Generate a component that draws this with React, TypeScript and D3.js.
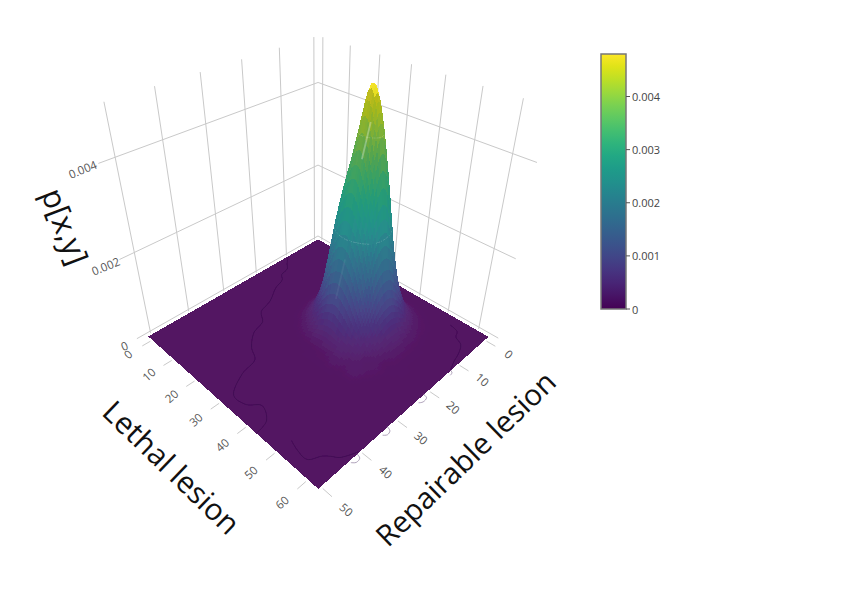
import React, { useMemo } from "react";
import * as d3 from "d3";

// ---- data ----
const lethalAxis = [-1.8, 10, 17, 20, 23, 26, 29, 32, 35, 38, 41, 44, 47, 50, 53, 63];
const repAxis = [-1.3, 3, 6, 9, 12, 15, 18, 21, 24, 27, 30, 36, 50.5];
// probability x 1e4, one row per lethal value, one column per repairable value
const heightRows = [
  [0, 0, 0, 0, 0, 0, 0, 0, 0, 0, 0, 0, 0],
  [0, 0, 0, 0, 0, 0, 0, 0, 0, 0, 0, 0, 0],
  [0, 0, 0, 0.1, 0.15, 0.2, 0.15, 0.1, 0, 0, 0, 0, 0],
  [0, 0, 0.15, 0.4, 0.8, 1.1, 1.0, 0.5, 0.15, 0, 0, 0, 0],
  [0, 0.1, 0.5, 1.7, 3.5, 4.8, 4.1, 2.2, 0.6, 0.1, 0, 0, 0],
  [0, 0.25, 1.3, 4.6, 9.2, 13.2, 11.6, 5.9, 1.9, 0.3, 0.05, 0, 0],
  [0, 0.5, 2.8, 9.8, 19.5, 27, 24, 12.4, 3.9, 0.7, 0.1, 0, 0],
  [0, 0.7, 4.9, 15.5, 29.5, 38, 32, 18.5, 6.2, 1.0, 0.2, 0, 0],
  [0, 0.8, 6.0, 18.7, 37, 48, 35, 20.2, 7.2, 1.2, 0.3, 0, 0],
  [0, 0.7, 5.0, 15.8, 33, 42, 30, 17.4, 6.1, 1.3, 0.3, 0, 0],
  [0, 0.5, 3.3, 9.8, 20, 25.5, 22, 11.8, 4.3, 1.9, 0.3, 0, 0],
  [0, 0.3, 1.5, 4.4, 9, 11.8, 10.5, 5.9, 3.0, 1.0, 0.2, 0, 0],
  [0, 0.15, 0.6, 1.5, 2.9, 3.9, 3.5, 2.4, 1.0, 1.3, 0.2, 0, 0],
  [0, 0, 0.25, 0.5, 0.9, 1.1, 1.2, 0.6, 0.8, 0.3, 0.05, 0, 0],
  [0, 0, 0, 0.1, 0.2, 0.3, 0.3, 0.3, 0.1, 0, 0, 0, 0],
  [0, 0, 0, 0, 0, 0, 0, 0, 0, 0, 0, 0, 0],
];
// faint level-set rings on the peak, same unit as heightRows
const ringLevels = [40, 22];
// faint ridge streaks on the peak front, [lethal, repairable, z]
const ridgeStreaks: [number, number, number][][] = [
  [[35.6, 15.4, 0.0042], [35.2, 17, 0.0036]],
  [[34.6, 20.2, 0.00175], [33.6, 21.8, 0.0009]],
];
// wiggly near-zero contour traces on the floor, [lethal, repairable]
const floorTraces: [number, number][][] = [
  [[-1.8, 9.5], [0.5, 11.5], [2.6, 13], [3.5, 15.5], [5.5, 16.8], [7, 20], [10.3, 24.1], [12, 28], [15.5, 30], [17, 33.5], [21, 36.9], [25, 38.7], [26.5, 43], [30.6, 47.9], [34.9, 47.6], [37.9, 45.6], [42, 47.4], [43, 50.5]],
  [[50.2, 47.1], [52.6, 47.7], [56.2, 47.9], [58, 45.5], [59.3, 44.5], [61, 43.5], [62.9, 40.3]],
  [[53.1, 1.3], [56, 2], [57, 3.6], [59.6, 4.8], [61.2, 7.7], [61.8, 9.7], [63, 12.4]],
];
// the same traces where they slip just past the front-right edge
const edgeTraces: [number, number][][] = [
  [[63, 21.4], [64.2, 21.7], [64.4, 23], [63.8, 23.8]],
  [[63, 32.4], [64.2, 32.8], [64.5, 33.8], [63.8, 34.5]],
  [[63, 40.8], [64.2, 41.1], [64.4, 42.2], [63.6, 42.9]],
  [[63, 12.4], [63.8, 12.8], [64, 13.6]],
];
const lethalTicks = [0, 10, 20, 30, 40, 50, 60];
const repTicks = [0, 10, 20, 30, 40, 50];
const zGridTicks = [0, 0.002, 0.004];
const barTicks = [0, 0.001, 0.002, 0.003, 0.004];
const zMax = 0.0048;
const boxTop = 0.005;
const floorDrop = -0.00012;
const surfaceStretch = 1.1;

// camera calibration: [lethal, repairable, z] seen at [px, py]
const A0 = lethalAxis[0];
const A1 = lethalAxis[lethalAxis.length - 1];
const B0 = repAxis[0];
const B1 = repAxis[repAxis.length - 1];
const calibration: [number, number, number, number, number][] = [
  [A0, B0, floorDrop, 318, 240], [A0, B1, floorDrop, 150, 339], [A1, B0, floorDrop, 487, 339], [A1, B1, floorDrop, 318, 488],
  [A0, B0, 0.002, 318, 165], [A0, B1, 0.002, 133, 250], [A1, B0, 0.002, 504, 250],
  [A0, B0, 0.004, 318, 81], [A0, B1, 0.004, 112, 157], [A1, B0, 0.004, 525, 157],
  [A0, B0, boxTop, 318, 37], [A0, B1, boxTop, 100, 105], [A1, B0, boxTop, 538, 105],
];

function solveCamera(): number[] {
  const N = 11;
  const M = Array.from({ length: N }, () => new Array(N + 1).fill(0));
  const add = (r: number[], v: number) => {
    for (let i = 0; i < N; i++) {
      for (let j = 0; j < N; j++) M[i][j] += r[i] * r[j];
      M[i][N] += r[i] * v;
    }
  };
  for (const [a0, b0, z0, px, py] of calibration) {
    const a = a0 / 60, b = b0 / 50, z = z0 / boxTop, u = px / 500, v = py / 500;
    add([a, b, z, 1, 0, 0, 0, 0, -u * a, -u * b, -u * z], u);
    add([0, 0, 0, 0, a, b, z, 1, -v * a, -v * b, -v * z], v);
  }
  for (let c = 0; c < N; c++) {
    let p = c;
    for (let r = c + 1; r < N; r++) if (Math.abs(M[r][c]) > Math.abs(M[p][c])) p = r;
    [M[c], M[p]] = [M[p], M[c]];
    for (let r = 0; r < N; r++) {
      if (r === c) continue;
      const f = M[r][c] / M[c][c];
      for (let k = c; k <= N; k++) M[r][k] -= f * M[c][k];
    }
  }
  return M.map((row, i) => row[N] / row[i]);
}
const P = solveCamera();
function project(a0: number, b0: number, z0: number): [number, number] {
  const a = a0 / 60, b = b0 / 50, z = z0 / boxTop;
  const w = P[8] * a + P[9] * b + P[10] * z + 1;
  return [(500 * (P[0] * a + P[1] * b + P[2] * z + P[3])) / w, (500 * (P[4] * a + P[5] * b + P[6] * z + P[7])) / w];
}

// Catmull-Rom smoothing of the table, for drawing only
const cr = (p0: number, p1: number, p2: number, p3: number, t: number) =>
  0.5 * (2 * p1 + (p2 - p0) * t + (2 * p0 - 5 * p1 + 4 * p2 - p3) * t * t + (3 * p1 - p0 - 3 * p2 + p3) * t * t * t);
const rowAt = (i: number) => heightRows[Math.max(0, Math.min(heightRows.length - 1, i))];
function heightAt(i: number, fi: number, j: number, fj: number): number {
  const col = [-1, 0, 1, 2].map((di) => {
    const r = rowAt(i + di);
    const g = (k: number) => r[Math.max(0, Math.min(r.length - 1, k))];
    return cr(g(j - 1), g(j), g(j + 1), g(j + 2), fj);
  });
  return Math.max(0, cr(col[0], col[1], col[2], col[3], fi));
}
const colorOf = d3.scaleSequential(d3.interpolateViridis).domain([0, zMax * 1e4]);
const line = d3.line();
const lineGrid = "#c9c9c9";

type Piece = { d: string; fill: string; seg: string };

function buildSurface(): Piece[] {
  const out: Piece[] = [];
  for (let i = 0; i < lethalAxis.length - 1; i++) {
    for (let j = 0; j < repAxis.length - 1; j++) {
      const busy = Math.max(heightRows[i][j], heightRows[i + 1][j], heightRows[i][j + 1], heightRows[i + 1][j + 1]) > 0;
      const n = busy ? 6 : 1;
      const aAt = (f: number) => lethalAxis[i] + (lethalAxis[i + 1] - lethalAxis[i]) * f;
      const bAt = (f: number) => repAxis[j] + (repAxis[j + 1] - repAxis[j]) * f;
      for (let u = 0; u < n; u++) {
        for (let v = 0; v < n; v++) {
          const f = [[u / n, v / n], [(u + 1) / n, v / n], [(u + 1) / n, (v + 1) / n], [u / n, (v + 1) / n]];
          const hs = f.map(([x, y]) => heightAt(i, x, j, y));
          const pts = f.map(([x, y], k) => project(aAt(x), bAt(y), hs[k] * 1e-4 * surfaceStretch + floorDrop));
          const mean = d3.mean(hs)!;
          const da = (hs[1] + hs[2] - hs[0] - hs[3]) / 2 / (aAt((u + 1) / n) - aAt(u / n));
          const db = (hs[2] + hs[3] - hs[0] - hs[1]) / 2 / (bAt((v + 1) / n) - bAt(v / n));
          const nz = 1 / Math.sqrt(1 + (da * da + db * db) * 0.05);
          const base = d3.rgb(colorOf(mean));
          const whiteMix = mean < 2 ? 0.08 : mean < 6 ? 0.08 - ((mean - 2) / 4) * 0.05 : 0.03;
          const mixed = d3.interpolateRgb(base, "#ffffff")(whiteMix);
          const dull = mean > 24 ? Math.min(1, (mean - 24) / 12) * (mean > 46.5 ? 0.05 : 0.5) : 0;
          const shaded = d3.rgb(mixed).darker((1 - nz) * 0.3 + dull).formatHex();
          let seg = "";
          for (const lv of ringLevels) {
            const hits: [number, number][] = [];
            for (let k = 0; k < 4; k++) {
              const m = (k + 1) % 4;
              if ((hs[k] - lv) * (hs[m] - lv) < 0) {
                const t = (lv - hs[k]) / (hs[m] - hs[k]);
                hits.push([pts[k][0] + (pts[m][0] - pts[k][0]) * t, pts[k][1] + (pts[m][1] - pts[k][1]) * t]);
              }
            }
            if (hits.length === 2) seg += line(hits)!;
          }
          out.push({ d: line(pts as [number, number][])! + "Z", fill: shaded, seg });
        }
      }
    }
  }
  return out;
}

export default function App() {
  const pieces = useMemo(buildSurface, []);
  const barY = d3.scaleLinear().domain([0, zMax]).range([309, 54]);
  const stops = d3.range(0, 1.0001, 0.05);
  const tickText = { fontFamily: "'Open Sans', sans-serif", fontSize: 11.5, fill: "#555" };
  const title = { fontFamily: "'Open Sans', sans-serif", fontSize: 29.5, fill: "#111" };
  const seg = (p: [number, number], q: [number, number]) => line([p, q])!;
  const labelAt = (pt: [number, number], rot: number, txt: string, key: string) => (
    <text key={key} transform={`translate(${pt[0]},${pt[1]}) rotate(${rot})`} textAnchor="middle" dominantBaseline="central" {...tickText}>
      {txt}
    </text>
  );
  const wiggle = d3.line().curve(d3.curveCatmullRom);
  return (
    <svg width={850} height={616} style={{ position: "absolute", left: 0, top: 0, background: "#fff" }}>
      <defs>
        <linearGradient id="bar" x1="0" x2="0" y1="1" y2="0">
          {stops.map((s) => (
            <stop key={s} offset={s} stopColor={d3.interpolateViridis(s)} />
          ))}
        </linearGradient>
        <filter id="soft" x="-5%" y="-5%" width="110%" height="110%">
          <feGaussianBlur stdDeviation="0.6" />
        </filter>
      </defs>

      {/* walls */}
      <g stroke={lineGrid} strokeWidth={1} fill="none">
        {repTicks.map((v) => (
          <path key={"rw" + v} d={seg(project(A0, v, -0.00005), project(A0, v, boxTop))} />
        ))}
        {lethalTicks.map((v) => (
          <path key={"lw" + v} d={seg(project(v, B0, -0.00005), project(v, B0, boxTop))} />
        ))}
        {zGridTicks.map((z) => (
          <g key={"z" + z}>
            <path d={seg(project(A0, B1 + 2.8, z), project(A0, B0, z))} />
            <path d={seg(project(A0, B0, z), project(A1 + 3, B0, z))} />
          </g>
        ))}
      </g>

      {/* surface, painted from the back corner to the front corner */}
      <g filter="url(#soft)">
        <g shapeRendering="crispEdges">
          {pieces.map((p, i) => (
            <React.Fragment key={i}>
              <path d={p.d} fill={p.fill} stroke={p.fill} strokeWidth={1} />
              {p.seg ? <path d={p.seg} stroke="#ffffff" strokeOpacity={0.16} strokeWidth={1} fill="none" shapeRendering="auto" /> : null}
            </React.Fragment>
          ))}
        </g>
        {floorTraces.map((t, i) => (
          <path key={"tr" + i} d={wiggle(t.map(([a, b]) => project(a, b, floorDrop)))!} fill="none" stroke="#3a0a4e" strokeWidth={0.7} />
        ))}
        {edgeTraces.map((t, i) => (
          <path key={"et" + i} d={wiggle(t.map(([a, b]) => project(a, b, floorDrop)))!} fill="none" stroke="#9a8aa8" strokeWidth={0.8} />
        ))}
        {ridgeStreaks.map((t, i) => (
          <path key={"st" + i} d={line(t.map(([a, b, z]) => project(a, b, z * surfaceStretch + floorDrop)))!} fill="none" stroke="#ffffff" strokeOpacity={i === 0 ? 0.3 : 0.06} strokeWidth={1.8} />
        ))}
      </g>

      {/* axis ticks */}
      <g stroke={lineGrid} strokeWidth={1} fill="none">
        {lethalTicks.map((v) => (
          <path key={"lt" + v} d={seg(project(v, B1 + 0.6, floorDrop), project(v, B1 + 2.6, floorDrop))} />
        ))}
        {repTicks.map((v) => (
          <path key={"rt" + v} d={seg(project(A1 + 0.7, v, floorDrop), project(A1 + 3.4, v, floorDrop))} />
        ))}
      </g>
      {lethalTicks.map((v) => labelAt(project(v, B1 + 6.1, floorDrop), -42, String(v), "ll" + v))}
      {repTicks.map((v) => labelAt(project(A1 + 7.5, v, floorDrop), 42, String(v), "rl" + v))}
      {zGridTicks.map((z) => labelAt(project(A0, B1 + 5.8, z), -22, z === 0 ? "0" : String(z), "zl" + z))}

      {/* titles */}
      <text transform="translate(172,467) rotate(44)" textAnchor="middle" dominantBaseline="central" {...title} fontSize={30}>Lethal lesion</text>
      <text transform="translate(465,458) rotate(-44)" textAnchor="middle" dominantBaseline="central" {...title}>Repairable lesion</text>
      <text transform="translate(66,226) rotate(69)" textAnchor="middle" dominantBaseline="central" {...title} fontSize={31}>p[x,y]</text>

      {/* colour bar */}
      <rect x={601} y={barY(zMax)} width={25} height={barY(0) - barY(zMax)} fill="url(#bar)" stroke="#777" strokeWidth={1.5} />
      {barTicks.map((t) => (
        <g key={"bt" + t}>
          <line x1={626} x2={630} y1={barY(t)} y2={barY(t)} stroke="#555" strokeWidth={1} />
          <text x={632} y={barY(t)} dominantBaseline="central" fontFamily="'Open Sans', sans-serif" fontSize={11} fill="#444">
            {t === 0 ? "0" : String(t)}
          </text>
        </g>
      ))}
    </svg>
  );
}
